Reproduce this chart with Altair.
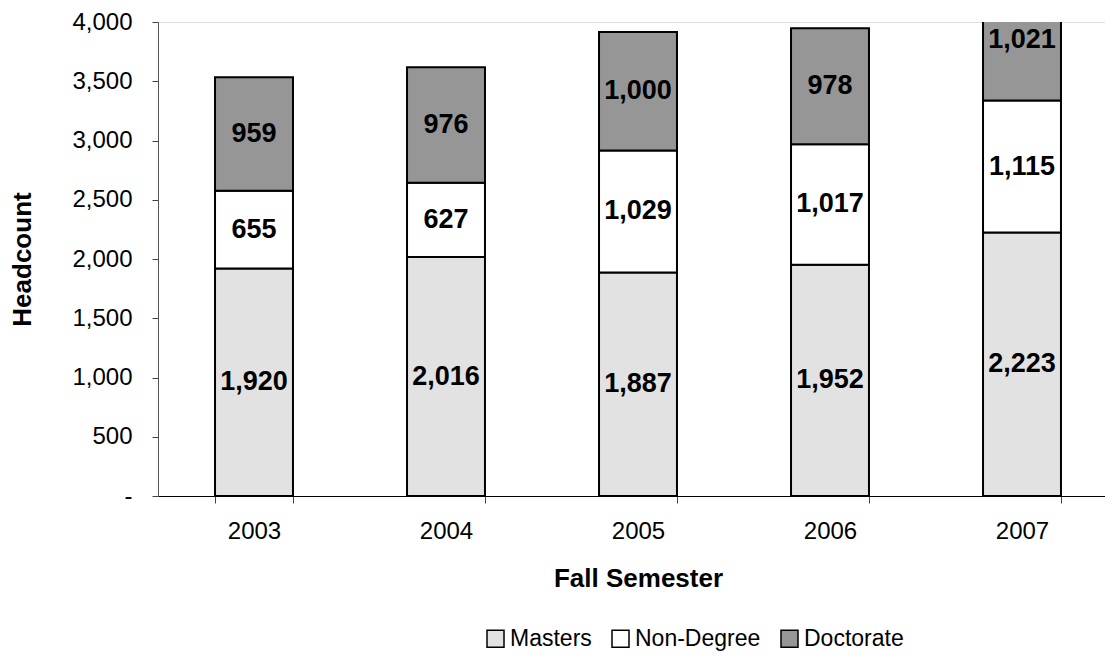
import altair as alt
import pandas as pd

years = ["2003", "2004", "2005", "2006", "2007"]
masters = [1920, 2016, 1887, 1952, 2223]
non_degree = [655, 627, 1029, 1017, 1115]
doctorate = [959, 976, 1000, 978, 1021]
series = ["Masters", "Non-Degree", "Doctorate"]
colors = ["#e2e2e2", "#ffffff", "#969696"]

rows = []
for i, y in enumerate(years):
    base = 0
    for k, (name, vals) in enumerate(zip(series, [masters, non_degree, doctorate])):
        v = vals[i]
        rows.append({"year": y, "series": name, "value": v, "order": k,
                     "y0": base, "y1": base + v, "mid": base + v / 2,
                     "label": f"{v:,}"})
        base += v
df = pd.DataFrame(rows)

xscale = alt.Scale(domain=years, range=[0, 960], paddingInner=0.594, paddingOuter=0.297)

x = alt.X("year:N", title="Fall Semester", scale=xscale,
          axis=alt.Axis(labelAngle=0, tickBand="extent", labelFontSize=24,
                        titleFontSize=26, titleFontWeight="bold",
                        titleBaseline="middle", titleY=82,
                        labelPadding=16, tickSize=7, domainColor="black",
                        domainWidth=1.2, tickColor="#444444",
                        labelColor="black", titleColor="black"))

bars = alt.Chart(df).mark_bar(stroke="black", strokeWidth=2, clip=True).encode(
    x=x,
    y=alt.Y("y0:Q", title="Headcount",
            scale=alt.Scale(domain=[0, 4000], nice=False),
            axis=alt.Axis(values=list(range(0, 4001, 500)),
                          labelExpr="datum.value == 0 ? '-' : format(datum.value, ',')",
                          grid=False, labelFontSize=24, titleFontSize=26,
                          titleFontWeight="bold", titleBaseline="middle",
                          titleX=-136, titleY=237, tickSize=6,
                          labelPadding=20, domainColor="#555555", tickColor="#444444",
                          labelColor="black", titleColor="black")),
    y2="y1:Q",
    color=alt.Color("series:N", scale=alt.Scale(domain=series, range=colors),
                    sort=series, title=None,
                    legend=alt.Legend(orient="none", direction="horizontal",
                                      legendX=326, legendY=605, padding=0,
                                      symbolType="square", symbolSize=289,
                                      symbolStrokeColor="black", symbolStrokeWidth=1.5,
                                      labelFontSize=23, labelColor="black",
                                      columnPadding=17, labelOffset=3)),
    order="order:Q",
)

labels = alt.Chart(df).mark_text(fontSize=27, fontWeight="bold", color="black",
                                 baseline="middle").encode(
    x=alt.X("year:N", scale=xscale),
    y=alt.Y("mid:Q"),
    text="label:N",
)

chart = alt.layer(bars, labels).properties(
    width=947, height=474,
    autosize=alt.AutoSizeParams(type="none"),
    padding={"left": 150, "top": 14, "right": 0, "bottom": 160},
).configure_view(stroke=None).configure(font="Liberation Sans")

chart.save("out.html", embed_options={"renderer": "svg", "actions": False})
